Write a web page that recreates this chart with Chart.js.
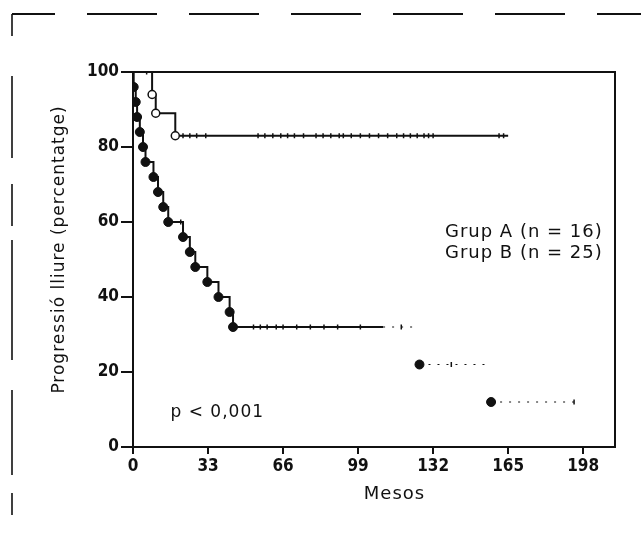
<!DOCTYPE html>
<html>
<head>
<meta charset="utf-8">
<script src="https://cdn.jsdelivr.net/npm/chart.js@4.4.0/dist/chart.umd.min.js"></script>
<style>
  html, body { margin: 0; padding: 0; background: #fff; }
  #wrap { width: 641px; height: 552px; }
</style>
</head>
<body>
<div id="wrap"><canvas id="km" width="641" height="552"></canvas></div>
<script>
// === Data ===
// Grup A (n = 16), open circles
var aTimes = [0, 8.4, 10, 18.6, 165];
var aSurv = [100, 94, 89, 83, 83];
var aCensored = [6, 22, 25, 28, 32, 55, 58, 61.5, 65, 68, 71, 75, 80.5, 83.6, 87, 90.7, 92.5, 96, 100, 104, 108, 112, 116, 119, 122, 125, 128, 130, 132, 161, 163];

// Grup B (n = 25), filled circles; null = where the scan loses the curve
var bTimes = [0, 0.3, 1.2, 1.8, 3, 4.4, 5.5, 9, 11, 13.3, 15.5, 22, 25, 27.4, 32.7, 37.6, 42.5, 44, 110, 125, 125.5, 126, 157, 157.5, 157.5, 195];
var bSurv = [100, 96, 92, 88, 84, 80, 76, 72, 68, 64, 60, 56, 52, 48, 44, 40, 36, 32, 32, 32, null, 22, 22, null, 12, 12];
var bCensored = [21, 33, 53, 56, 59, 63, 66, 72, 78, 84, 90, 100, 118, 140, 194];

var xTicks = [0, 33, 66, 99, 132, 165, 198];
var yTicks = [0, 20, 40, 60, 80, 100];

var tickFont = { family: "'DejaVu Sans Condensed', 'DejaVu Sans', sans-serif", size: 17, weight: 'bold' };
var textFont = "'DejaVu Sans', sans-serif";

function toPoints(times, surv) {
    return times.map(function(t, i) { return { x: t, y: surv[i] }; });
}

// survival level of a curve at time t (for placing censor ticks)
function survAt(times, surv, t) {
    var v = surv[0];
    for (var i = 0; i < times.length; i++) {
        if (times[i] <= t && surv[i] != null) v = surv[i];
    }
    return v;
}

function censorPoints(times, surv, cens) {
    return cens.map(function(t) { return { x: t, y: survAt(times, surv, t) }; });
}

// circle only where the curve drops (an event)
function markerRadius(surv, r) {
    return function(ctx) {
        var i = ctx.dataIndex;
        var y = surv[i];
        if (i === 0 || y == null) return 0;
        var prev = surv[i - 1];
        return (prev == null || y < prev) ? r : 0;
    };
}

function faintFrom(xStart, normal) {
    return function(ctx) {
        return ctx.p0.parsed.x >= xStart ? normal.faint : normal.base;
    };
}

function spacedText(ctx, text, x, y, size) {
    ctx.font = size + 'px ' + textFont;
    ctx.letterSpacing = '1px';
    ctx.fillText(text, x, y);
}

var scanFrame = {
    id: 'scanFrame',
    beforeDraw: function(chart) {
        var ctx = chart.ctx;
        ctx.save();
        ctx.fillStyle = '#fff';
        ctx.fillRect(0, 0, chart.width, chart.height);
        ctx.strokeStyle = '#111';
        // top edge of the scanned page frame
        ctx.lineWidth = 2;
        ctx.setLineDash([70, 32]);
        ctx.lineDashOffset = 27;
        ctx.beginPath(); ctx.moveTo(12, 14); ctx.lineTo(641, 14); ctx.stroke();
        // left edge
        ctx.lineWidth = 1.6;
        ctx.setLineDash([22, 40, 82, 26, 42, 14, 120, 30, 85, 18]);
        ctx.lineDashOffset = 0;
        ctx.beginPath(); ctx.moveTo(12, 14); ctx.lineTo(12, 552); ctx.stroke();
        ctx.restore();
    },
    beforeDatasetsDraw: function(chart) {
        var a = chart.chartArea;
        var ctx = chart.ctx;
        ctx.save();
        ctx.strokeStyle = '#111';
        ctx.lineWidth = 2;
        ctx.strokeRect(a.left, a.top, a.right - a.left, a.bottom - a.top);
        ctx.restore();
    },
    afterDraw: function(chart) {
        var ctx = chart.ctx;
        var x = chart.scales.x, y = chart.scales.y;
        ctx.save();
        ctx.fillStyle = '#111';
        ctx.textBaseline = 'middle';
        ctx.textAlign = 'left';
        spacedText(ctx, 'Grup A (n = 16)', x.getPixelForValue(137.2), y.getPixelForValue(57.3), 18);
        spacedText(ctx, 'Grup B (n = 25)', x.getPixelForValue(137.2), y.getPixelForValue(51.7), 18);
        spacedText(ctx, 'p < 0,001', x.getPixelForValue(16.5), y.getPixelForValue(9.3), 17);

        // axis titles
        ctx.textAlign = 'center';
        spacedText(ctx, 'Mesos', x.getPixelForValue(115), 494, 18);
        ctx.translate(60, (y.top + y.bottom) / 2 - 10);
        ctx.rotate(-Math.PI / 2);
        spacedText(ctx, 'Progressió lliure (percentatge)', 0, 0, 17);
        ctx.restore();
    }
};

new Chart(document.getElementById('km'), {
    type: 'line',
    data: {
        datasets: [
            {
                label: 'Grup A censurats',
                data: censorPoints(aTimes, aSurv, aCensored),
                showLine: false,
                pointStyle: 'line',
                rotation: 90,
                pointRadius: 2.5,
                borderColor: '#111',
                borderWidth: 1.5
            },
            {
                label: 'Grup B censurats',
                data: censorPoints(bTimes, bSurv, bCensored),
                showLine: false,
                pointStyle: 'line',
                rotation: 90,
                pointRadius: 2.5,
                borderColor: '#111',
                borderWidth: 1.5
            },
            {
                label: 'Grup A (n = 16)',
                data: toPoints(aTimes, aSurv),
                stepped: 'before',
                borderColor: '#111',
                borderWidth: 2,
                pointRadius: markerRadius(aSurv, 4),
                pointBackgroundColor: '#fff',
                pointBorderColor: '#111',
                pointBorderWidth: 1.5
            },
            {
                label: 'Grup B (n = 25)',
                data: toPoints(bTimes, bSurv),
                stepped: 'before',
                spanGaps: false,
                borderColor: '#111',
                borderWidth: 2,
                segment: {
                    borderDash: faintFrom(110, { base: undefined, faint: [2, 7] }),
                    borderWidth: faintFrom(110, { base: undefined, faint: 1 })
                },
                pointRadius: markerRadius(bSurv, 4.5),
                pointBackgroundColor: '#111',
                pointBorderColor: '#111',
                pointBorderWidth: 1
            }
        ]
    },
    options: {
        responsive: false,
        animation: false,
        devicePixelRatio: 1,
        layout: { padding: { top: 72, right: 26, left: 0, bottom: 0 } },
        plugins: {
            legend: { display: false },
            tooltip: { enabled: false }
        },
        scales: {
            x: {
                type: 'linear',
                min: 0,
                max: 212,
                afterBuildTicks: function(scale) {
                    scale.ticks = xTicks.map(function(v) { return { value: v }; });
                },
                afterFit: function(scale) { scale.height = 105; },
                grid: { drawOnChartArea: false, drawTicks: true, tickLength: 7, color: '#111', lineWidth: 2 },
                border: { display: true, color: '#111', width: 2 },
                ticks: { color: '#111', font: tickFont, padding: 2, maxRotation: 0 }
            },
            y: {
                min: 0,
                max: 100,
                afterBuildTicks: function(scale) {
                    scale.ticks = yTicks.map(function(v) { return { value: v }; });
                },
                afterFit: function(scale) { scale.width = 133; },
                grid: { drawOnChartArea: false, drawTicks: true, tickLength: 12, color: '#111', lineWidth: 2 },
                border: { display: true, color: '#111', width: 2 },
                ticks: { color: '#111', font: tickFont, padding: 2 }
            }
        }
    },
    plugins: [scanFrame]
});
</script>
</body>
</html>
